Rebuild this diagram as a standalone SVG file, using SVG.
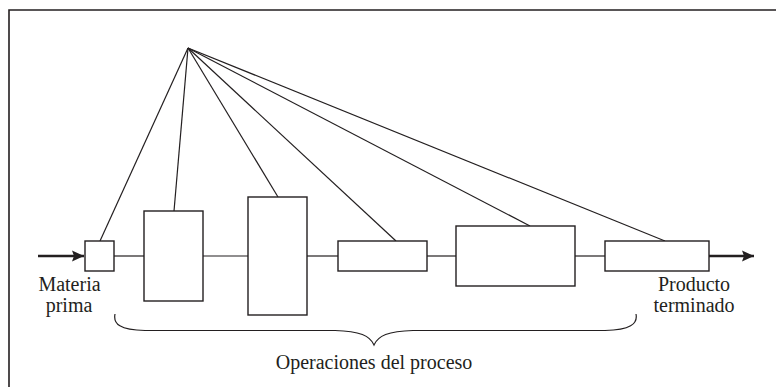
<svg xmlns="http://www.w3.org/2000/svg" width="776" height="387" viewBox="0 0 776 387">
<style>
.box{fill:#fff;stroke:#231f20;stroke-width:1.4}
.ln{stroke:#231f20;stroke-width:1.2;fill:none}
.arr{stroke:#231f20;stroke-width:2.4;fill:none}
.t{font-size:20px;fill:#231f20;text-anchor:middle}
</style>
<defs>
<marker id="ah" markerUnits="userSpaceOnUse" markerWidth="14" markerHeight="14" refX="12" refY="7" orient="auto">
<path d="M0,1.5 L12,7 L0,12.5 L2,7 Z" fill="#231f20"/>
</marker>
</defs>
<rect x="0" y="0" width="776" height="387" fill="#fff"/>
<path d="M9,387 L9,10 L776,10" fill="none" stroke="#231f20" stroke-width="1.6"/>
<g id="connectors">
<line class="arr" x1="38" y1="256" x2="84" y2="256" marker-end="url(#ah)"/>
<line class="arr" x1="709" y1="256" x2="754" y2="256" marker-end="url(#ah)"/>
<line class="ln" x1="114" y1="256" x2="144" y2="256"/>
<line class="ln" x1="203" y1="256" x2="248" y2="256"/>
<line class="ln" x1="307" y1="256" x2="338" y2="256"/>
<line class="ln" x1="427" y1="256" x2="456" y2="256"/>
<line class="ln" x1="575" y1="256" x2="605" y2="256"/>
<line class="ln" x1="188" y1="48" x2="100" y2="241"/>
<line class="ln" x1="188" y1="48" x2="174" y2="211"/>
<line class="ln" x1="188" y1="48" x2="278" y2="197"/>
<line class="ln" x1="188" y1="48" x2="396" y2="241"/>
<line class="ln" x1="188" y1="48" x2="530" y2="226"/>
<line class="ln" x1="188" y1="48" x2="665" y2="241"/>
<path class="ln" d="M115,314 C113,324 120,330 145,330.5 L335,330.5 C360,331 370,336 374,345 C378,336 388,331 413,330.5 L605,330.5 C630,330 638,324 636,314"/>
</g>
<g id="n1"><rect class="box" x="85" y="241" width="29" height="30"/></g>
<g id="n2"><rect class="box" x="144" y="211" width="59" height="90"/></g>
<g id="n3"><rect class="box" x="248" y="197" width="59" height="118"/></g>
<g id="n4"><rect class="box" x="338" y="241" width="89" height="30"/></g>
<g id="n5"><rect class="box" x="456" y="226" width="119" height="60"/></g>
<g id="n6"><rect class="box" x="605" y="241" width="104" height="30"/></g>
<g id="labels" font-family="Liberation Serif, Times New Roman, DejaVu Serif, serif">
<text class="t" x="69.5" y="291">Materia</text>
<text class="t" x="69" y="312">prima</text>
<text class="t" x="694" y="291">Producto</text>
<text class="t" x="694" y="312">terminado</text>
<text class="t" x="374" y="369">Operaciones del proceso</text>
</g>
</svg>
